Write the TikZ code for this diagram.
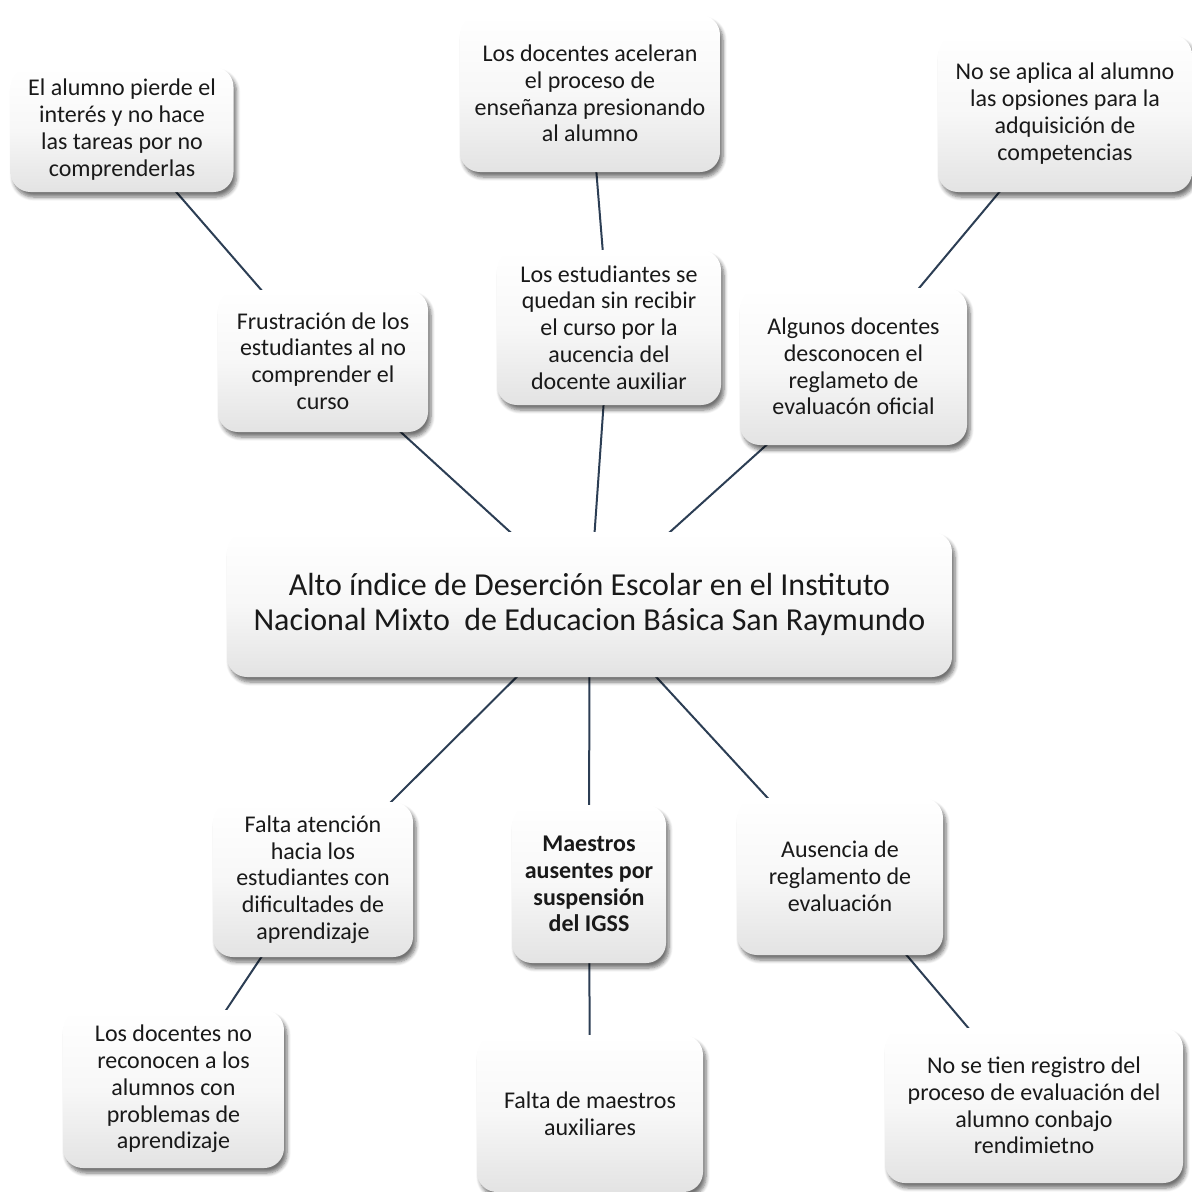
\documentclass[tikz,border=0pt]{standalone}
\usepackage{fontspec}
\setmainfont{Carlito}
\usetikzlibrary{shadows.blur}
\definecolor{linkcol}{RGB}{44,62,84}
\pgfdeclarelayer{background}
\pgfsetlayers{background,main}

\tikzset{
  causebox/.style={rounded corners=10pt, align=center, inner sep=2pt,
    top color=white, bottom color=black!11, middle color=white!97!black,
    blur shadow={shadow xshift=1.5pt, shadow yshift=-2.5pt, shadow blur steps=6, shadow opacity=55},
    text=black!90, font=\fontsize{12pt}{13.4pt}\selectfont},
  link/.style={draw=linkcol, line width=1pt}
}

\begin{document}
\begin{tikzpicture}[x=0.5pt,y=0.5pt,yscale=-1,xscale=1]
\useasboundingbox (0,0) rectangle (1192,1191);

% Central problem
\node [causebox, minimum width=362.5pt, minimum height=72.5pt, font=\fontsize{16pt}{17.5pt}\selectfont] (problema) at (589.5,604.5) {Alto índice de Deserción Escolar en el Instituto\\Nacional Mixto\ \ de Educacion Básica San Raymundo};

% Text Node
\node [causebox, minimum width=111.5pt, minimum height=62.5pt] (alumno) at (122,129.5) {El alumno pierde el\\interés y no hace\\las tareas por no\\comprenderlas};
% Text Node
\node [causebox, minimum width=130pt, minimum height=78.5pt] (acelera) at (590,93.5) {Los docentes aceleran\\el proceso de\\enseñanza presionando\\al alumno};
% Text Node
\node [causebox, minimum width=127pt, minimum height=78.5pt] (opciones) at (1065,113.5) {No se aplica al alumno\\las opsiones para la\\adquisición de\\competencias};
% Text Node
\node [causebox, minimum width=105pt, minimum height=71pt] (frustra) at (323,361) {Frustración de los\\estudiantes al no\\comprender el\\curso};
% Text Node
\node [causebox, minimum width=112pt, minimum height=77.5pt] (quedan) at (609,327.5) {Los estudiantes se\\quedan sin recibir\\el curso por la\\aucencia del\\docente auxiliar};
% Text Node
\node [causebox, minimum width=113.5pt, minimum height=78.5pt] (reglam) at (853.5,366.5) {Algunos docentes\\desconocen el\\reglameto de\\evaluacón oficial};

% Text Node
\node [causebox, minimum width=100pt, minimum height=77.5pt] (atencion) at (313,879.5) {Falta atención\\hacia los\\estudiantes con\\dificultades de\\aprendizaje};
% Text Node
\node [causebox, minimum width=77pt, minimum height=79pt, font=\fontsize{12pt}{13.4pt}\selectfont\bfseries] (ausentes) at (589,884) {Maestros\\ausentes por\\suspensión\\del IGSS};
% Text Node
\node [causebox, minimum width=103pt, minimum height=78.5pt] (ausencia) at (840,876.5) {Ausencia de\\reglamento de\\evaluación};
% Text Node
\node [causebox, minimum width=110.5pt, minimum height=79pt] (reconocen) at (173.5,1089) {Los docentes no\\reconocen a los\\alumnos con\\problemas de\\aprendizaje};
% Text Node
\node [causebox, minimum width=113pt, minimum height=78.5pt] (auxiliar) at (590,1113.5) {Falta de maestros\\auxiliares};
% Text Node
\node [causebox, minimum width=149pt, minimum height=77.5pt] (registro) at (1034,1105.5) {No se tien registro del\\proceso de evaluación del\\alumno conbajo\\rendimietno};

%Straight Lines
\begin{pgfonlayer}{background}
\draw [link] (alumno.center) -- (frustra.center);
\draw [link] (acelera.center) -- (quedan.center);
\draw [link] (opciones.center) -- (reglam.center);
\draw [link] (frustra.center) -- (problema.center);
\draw [link] (quedan.center) -- (problema.center);
\draw [link] (reglam.center) -- (problema.center);
\draw [link] (problema.center) -- (atencion.center);
\draw [link] (problema.center) -- (ausentes.center);
\draw [link] (problema.center) -- (ausencia.center);
\draw [link] (atencion.center) -- (reconocen.center);
\draw [link] (ausentes.center) -- (auxiliar.center);
\draw [link] (ausencia.center) -- (registro.center);
\end{pgfonlayer}

\end{tikzpicture}
\end{document}
